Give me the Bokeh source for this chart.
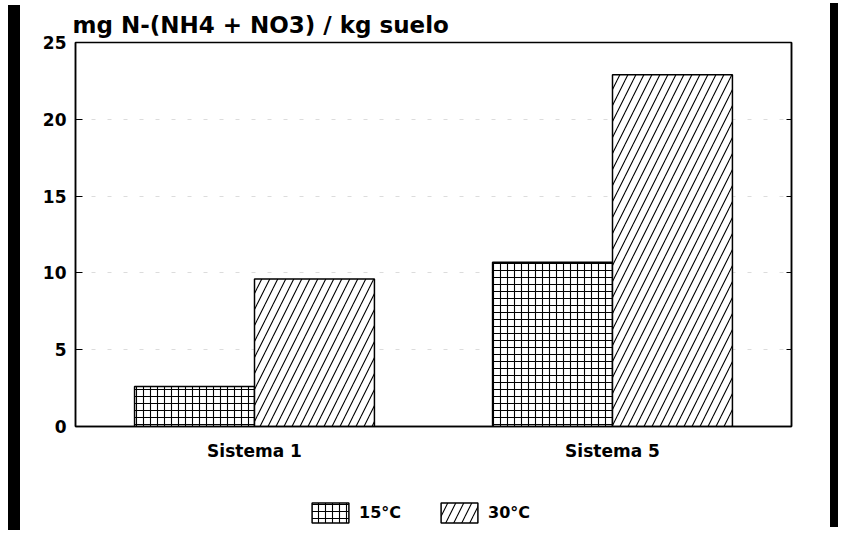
import numpy as np
from bokeh.plotting import figure
from bokeh.models import (FactorRange, LinearAxis, FixedTicker, Legend, LegendItem,
                          ColumnDataSource, Div, Title)
from bokeh.transform import dodge
from bokeh.layouts import row, column
from bokeh.embed import file_html
from bokeh.resources import INLINE

# Mineral nitrogen N-(NH4 + NO3) per kg of soil, by system and incubation temperature
categories = ["Sistema 1", "Sistema 5"]
temp_15 = [2.6, 10.7]
temp_30 = [9.6, 22.9]
series_labels = ["15°C", "30°C"]
y_ticks = [0, 5, 10, 15, 20, 25]

FONT = "DejaVu Sans"
BAR_W = 0.335

source = ColumnDataSource(dict(cat=categories, t15=temp_15, t30=temp_30))

STYLE_15 = dict(fill_color="white", line_color="black", line_width=1.5,
                hatch_pattern="cross", hatch_color="black", hatch_weight=1.1,
                hatch_scale=7)
STYLE_30 = dict(fill_color="white", line_color="black", line_width=1.5,
                hatch_pattern="right_diagonal_line", hatch_color="black",
                hatch_weight=1.1, hatch_scale=16)


def add_bars(fig, src):
    a = fig.vbar(x=dodge("cat", -BAR_W / 2, range=fig.x_range), top="t15",
                 width=BAR_W, source=src, **STYLE_15)
    b = fig.vbar(x=dodge("cat", BAR_W / 2, range=fig.x_range), top="t30",
                 width=BAR_W, source=src, **STYLE_30)
    return a, b


p = figure(
    x_range=FactorRange(*categories, range_padding=0),
    y_range=(0, 25),
    width=800, height=470,
    output_backend="svg", toolbar_location=None,
    min_border_left=55, min_border_right=29,
    min_border_top=42, min_border_bottom=44,
)
p.margin = 0

p.add_layout(Title(text="mg N-(NH4 + NO3) / kg suelo", text_font=FONT,
                   text_font_size="23px", text_font_style="bold",
                   text_color="black", align="left", offset=-3, standoff=9), "above")

add_bars(p, source)

# frame and grid
p.outline_line_color = "black"
p.outline_line_width = 1.5
p.background_fill_color = "white"
p.border_fill_color = "white"
p.xgrid.grid_line_color = None
p.ygrid.ticker = FixedTicker(ticks=y_ticks)
p.ygrid.grid_line_color = "#dcdcdc"
p.ygrid.grid_line_dash = "4 12"
p.ygrid.grid_line_width = 1

# left axis
yax = p.yaxis[0]
yax.ticker = FixedTicker(ticks=y_ticks)
yax.axis_line_color = "black"
yax.axis_line_width = 1.5
yax.major_tick_in = 7
yax.major_tick_out = 0
yax.minor_tick_line_color = None
yax.major_tick_line_color = "black"
yax.major_tick_line_width = 1.2
yax.major_label_text_font = FONT
yax.major_label_text_font_size = "17px"
yax.major_label_text_font_style = "bold"
yax.major_label_text_color = "black"
yax.major_label_standoff = 9

# right axis with inward ticks only
rax = LinearAxis(ticker=FixedTicker(ticks=y_ticks), major_label_text_color=None,
                 axis_line_color="black", axis_line_width=1.5,
                 major_tick_in=5, major_tick_out=0, minor_tick_line_color=None)
p.add_layout(rax, "right")

# category axis
xax = p.xaxis[0]
xax.axis_line_color = "black"
xax.axis_line_width = 1.5
xax.major_tick_line_color = None
xax.minor_tick_line_color = None
xax.major_label_text_font = FONT
xax.major_label_text_font_size = "17px"
xax.major_label_text_font_style = "bold"
xax.major_label_text_color = "black"
xax.major_label_standoff = 8

# legend strip under the chart: its renderers share the bar styles but hold
# no drawable heights, so only the legend swatches appear
key = figure(
    x_range=FactorRange(*categories, range_padding=0), y_range=(0, 25),
    width=800, height=76, output_backend="svg", toolbar_location=None,
    x_axis_location=None, y_axis_location=None,
    min_border=0,
)
key.margin = 0
key.outline_line_color = None
key.xgrid.grid_line_color = None
key.ygrid.grid_line_color = None
no_height = np.full(len(categories), np.nan)
key_source = ColumnDataSource(dict(cat=categories, t15=no_height, t30=no_height))
k15, k30 = add_bars(key, key_source)

legend = Legend(
    items=[LegendItem(label=series_labels[0], renderers=[k15]),
           LegendItem(label=series_labels[1], renderers=[k30])],
    orientation="horizontal", location=(232, 21),
    glyph_width=46, glyph_height=25, spacing=35, label_standoff=6,
    label_text_font=FONT, label_text_font_size="16px", label_text_font_style="bold",
    label_text_color="black",
    border_line_color=None, background_fill_alpha=0, padding=0, margin=0,
)
key.add_layout(legend, "center")

left_bar = Div(width=12, height=525, styles={"background-color": "black"},
               margin=(5, 0, 0, 8))
right_bar = Div(width=8, height=524, styles={"background-color": "black"},
                margin=(3, 0, 0, 10))

layout = row(left_bar, column(p, key, spacing=0), right_bar, spacing=0)

open("out.html", "w").write(file_html(layout, INLINE))
